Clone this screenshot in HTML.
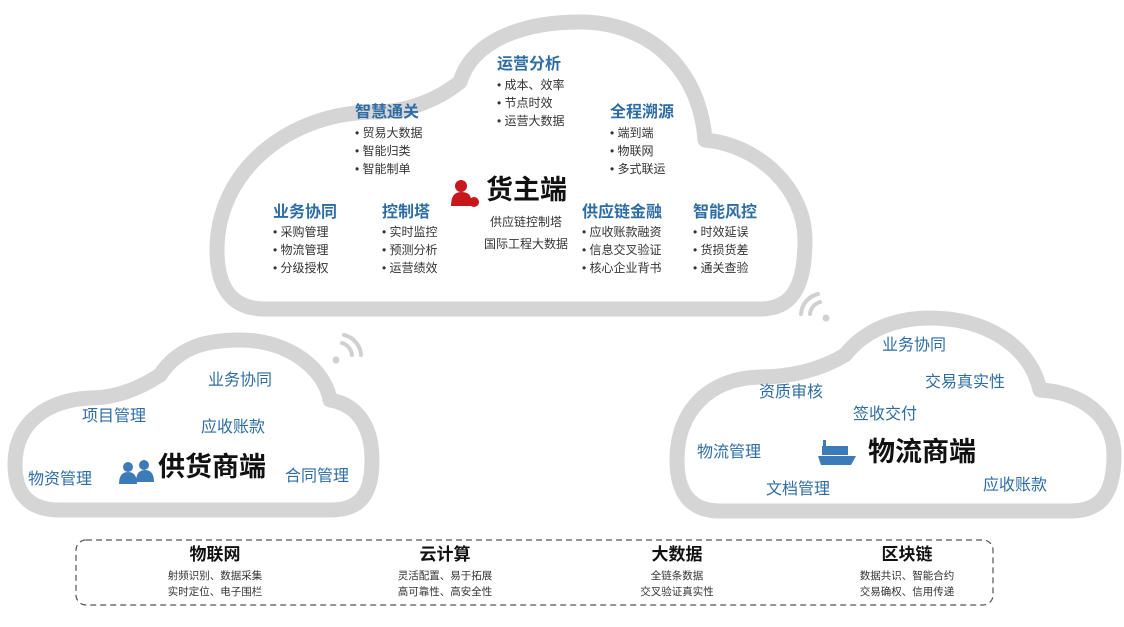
<!DOCTYPE html>
<html><head><meta charset="utf-8"><style>
body{margin:0;width:1124px;height:627px;background:#fff;position:relative;overflow:hidden;font-family:"Liberation Sans","Noto Sans CJK SC",sans-serif}
.a{position:absolute;white-space:nowrap}
.h{color:#2e6da4;font-size:16px;font-weight:bold;line-height:18px}
.l{color:#2e6da4;font-size:16px;line-height:18px}
.b{color:#333;font-size:12px;line-height:18px}
.big{color:#111;font-size:27px;font-weight:bold;line-height:30px}
.t{color:#111;font-size:17px;font-weight:bold;text-align:center;width:160px;line-height:20px}
.s{color:#333;font-size:10.5px;text-align:center;width:160px;line-height:16px}
</style></head><body>
<svg class="a" style="left:0;top:0" width="1124" height="627">
<g fill="#fff" stroke="#d5d5d5" stroke-width="15" stroke-linejoin="round">
<path d="M265,309 Q217,309 217,250 C217,170 290,112 375,112 C410,112 440,98 460,82 C472,42 520,22 580,22 C650,22 700,70 705,140 C760,145 805,190 805,240 C805,290 790,309 760,309 Z"/>
<path d="M60,510 Q15,510 15,465 C15,420 50,400 90,398 Q125,398 160,375 C180,345 210,340 240,340 C290,340 325,370 330,400 C360,405 372,430 372,460 C372,495 360,510 330,510 Z"/>
<path d="M720,511 Q677,511 677,460 C677,410 710,378 760,377 C790,377 820,370 845,355 C865,330 895,318 930,318 C985,318 1030,345 1040,390 C1080,392 1114,415 1114,455 C1114,495 1100,511 1070,511 Z"/>
</g>
<g fill="none" stroke="#d0d0d0" stroke-width="4" stroke-linecap="round">
<path d="M342 343 a14 14 0 0 1 10 12"/><path d="M344 335 a22 22 0 0 1 17 20"/>
<path d="M820 302 a14 14 0 0 0 -10 12"/><path d="M818 294 a22 22 0 0 0 -17 20"/>
</g>
<circle cx="336" cy="360" r="3.5" fill="#d0d0d0"/><circle cx="826" cy="318" r="3.5" fill="#d0d0d0"/>
<rect x="76" y="540" width="917" height="65" rx="10" fill="none" stroke="#555" stroke-width="1.2" stroke-dasharray="6,4"/>
<g fill="#c8161d"><circle cx="461" cy="186" r="6"/><path d="M451 206 q0-14 10-14 q10 0 10 8 v6z"/><circle cx="474" cy="202" r="5"/></g>
<g fill="#3d7ab8"><circle cx="128" cy="467" r="5"/><path d="M119 484 q0-12 9-12 q9 0 9 12z"/><circle cx="144" cy="465" r="5"/><path d="M136 482 q0-12 9-12 q9 0 9 12z"/></g>
<g fill="#3d7ab8"><path d="M818 456 h38 l-5 9 h-30z"/><rect x="822" y="446" width="26" height="9"/><rect x="823" y="440" width="3" height="6"/></g>
</svg>
<div class="a h" style="left:497px;top:56px">运营分析</div>
<div class="a b" style="left:497px;top:76px">• 成本、效率<br>• 节点时效<br>• 运营大数据</div>
<div class="a h" style="left:355px;top:104px">智慧通关</div>
<div class="a b" style="left:355px;top:124px">• 贸易大数据<br>• 智能归类<br>• 智能制单</div>
<div class="a h" style="left:610px;top:104px">全程溯源</div>
<div class="a b" style="left:610px;top:124px">• 端到端<br>• 物联网<br>• 多式联运</div>
<div class="a big" style="left:486px;top:175px">货主端</div>
<div class="a b" style="left:490px;top:213px">供应链控制塔</div>
<div class="a b" style="left:484px;top:235px">国际工程大数据</div>
<div class="a h" style="left:273px;top:204px">业务协同</div>
<div class="a b" style="left:273px;top:223px">• 采购管理<br>• 物流管理<br>• 分级授权</div>
<div class="a h" style="left:382px;top:204px">控制塔</div>
<div class="a b" style="left:382px;top:223px">• 实时监控<br>• 预测分析<br>• 运营绩效</div>
<div class="a h" style="left:582px;top:204px">供应链金融</div>
<div class="a b" style="left:582px;top:223px">• 应收账款融资<br>• 信息交叉验证<br>• 核心企业背书</div>
<div class="a h" style="left:693px;top:204px">智能风控</div>
<div class="a b" style="left:693px;top:223px">• 时效延误<br>• 货损货差<br>• 通关查验</div>

<div class="a l" style="left:208px;top:372px">业务协同</div>
<div class="a l" style="left:82px;top:408px">项目管理</div>
<div class="a l" style="left:201px;top:419px">应收账款</div>
<div class="a l" style="left:28px;top:471px">物资管理</div>
<div class="a big" style="left:158px;top:452px">供货商端</div>
<div class="a l" style="left:285px;top:468px">合同管理</div>

<div class="a l" style="left:882px;top:337px">业务协同</div>
<div class="a l" style="left:925px;top:374px">交易真实性</div>
<div class="a l" style="left:759px;top:384px">资质审核</div>
<div class="a l" style="left:853px;top:406px">签收交付</div>
<div class="a l" style="left:697px;top:444px">物流管理</div>
<div class="a big" style="left:868px;top:437px">物流商端</div>
<div class="a l" style="left:766px;top:481px">文档管理</div>
<div class="a l" style="left:983px;top:477px">应收账款</div>

<div class="a t" style="left:135px;top:545px">物联网</div>
<div class="a s" style="left:135px;top:568px">射频识别、数据采集<br>实时定位、电子围栏</div>
<div class="a t" style="left:365px;top:545px">云计算</div>
<div class="a s" style="left:365px;top:568px">灵活配置、易于拓展<br>高可靠性、高安全性</div>
<div class="a t" style="left:597px;top:545px">大数据</div>
<div class="a s" style="left:597px;top:568px">全链条数据<br>交叉验证真实性</div>
<div class="a t" style="left:827px;top:545px">区块链</div>
<div class="a s" style="left:827px;top:568px">数据共识、智能合约<br>交易确权、信用传递</div>
</body></html>
